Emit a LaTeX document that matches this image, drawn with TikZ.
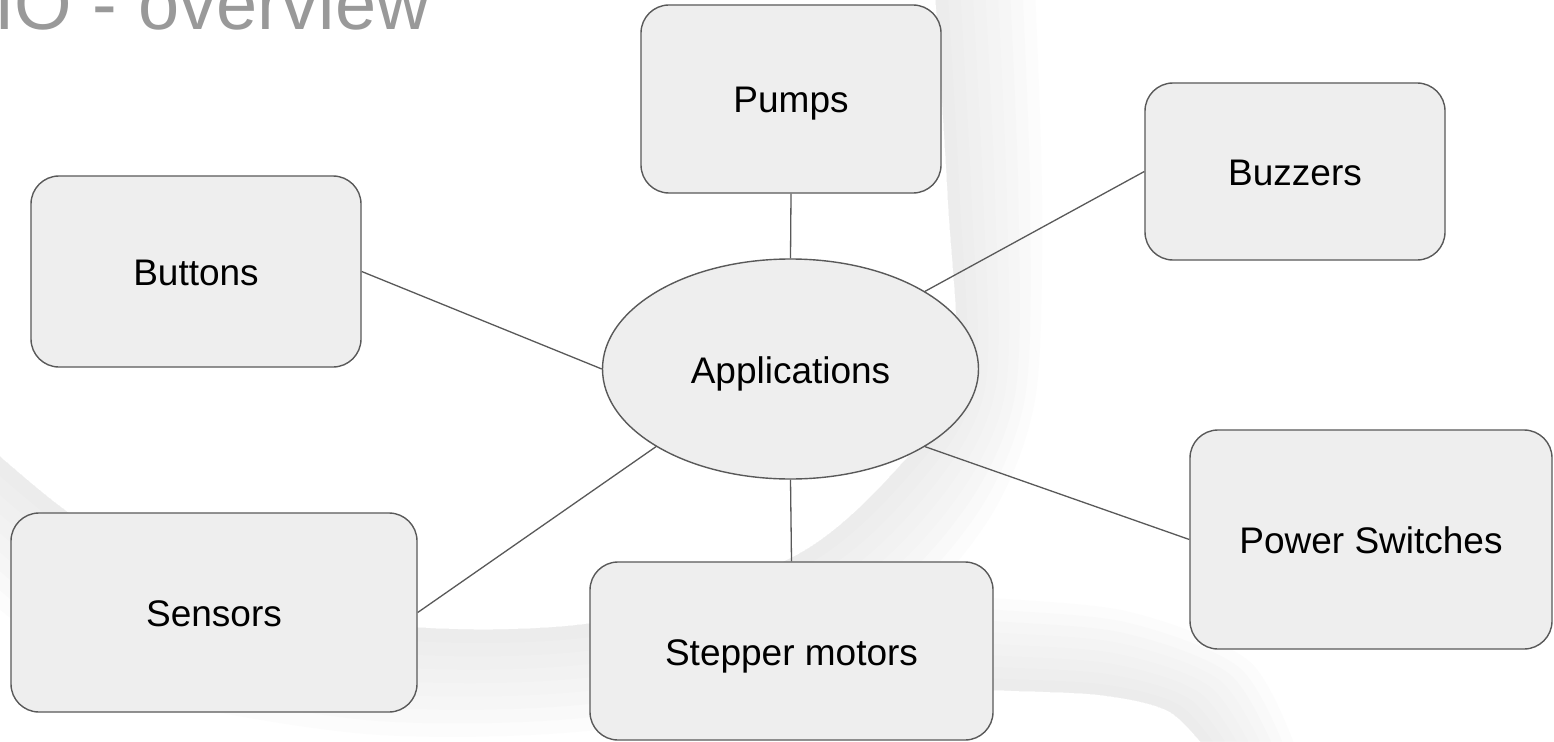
\documentclass[tikz,border=0pt]{standalone}
\usepackage{fontspec}
\setmainfont{Liberation Sans}
\usetikzlibrary{shapes.geometric,calc}
\definecolor{boxfill}{HTML}{EEEEEE}
\definecolor{edgegray}{HTML}{595959}
\definecolor{titlegray}{HTML}{999999}
\tikzset{
  labelfont/.style={font=\fontsize{37}{42}\selectfont, text height=28pt, text depth=0pt},
  box/.style={draw=edgegray, line width=1.4pt, fill=boxfill, rounded corners=28pt,
    inner sep=0pt, labelfont},
  hub/.style={ellipse, draw=edgegray, line width=1.4pt, fill=boxfill, inner sep=0pt,
    minimum width=376pt, minimum height=220pt, labelfont},
  link/.style={draw=edgegray, line width=1.3pt},
  swirl/.style={fill=black!11, fill opacity=0.1, draw=none}
}
\begin{document}
\begin{tikzpicture}[x=1pt,y=-1pt]
\useasboundingbox (0,0) rectangle (1554,741);
\fill[white] (0,0) rectangle (1554,741);

% faint ribbons in the background: a sharp edge (S, T) fading out towards (O, U)
\coordinate (S0) at (935,-10);  \coordinate (O0) at (1035,-10);
\coordinate (S1) at (948,200);  \coordinate (O1) at (1042,200);
\coordinate (S2) at (955,380);  \coordinate (O2) at (1035,400);
\coordinate (S3) at (898,468);  \coordinate (O3) at (985,525);
\coordinate (S4) at (795,556);  \coordinate (O4) at (880,630);
\coordinate (S5) at (600,622);  \coordinate (O5) at (650,722);
\coordinate (S6) at (380,624);  \coordinate (O6) at (380,735);
\coordinate (S7) at (150,565);  \coordinate (O7) at (120,690);
\coordinate (S8) at (62,508);   \coordinate (O8) at (20,625);
\coordinate (S9) at (-10,448);  \coordinate (O9) at (-10,600);

\coordinate (T0) at (880,684);  \coordinate (U0) at (880,590);
\coordinate (T1) at (993,690);  \coordinate (U1) at (993,598);
\coordinate (T2) at (1100,695); \coordinate (U2) at (1130,612);
\coordinate (T3) at (1170,712); \coordinate (U3) at (1250,662);
\coordinate (T4) at (1215,760); \coordinate (U4) at (1300,760);

\begin{scope}
  \clip (0,0) rectangle (1554,741);
  \foreach \t in {0.125,0.25,...,1.0} {
    \path[swirl]
      plot[smooth] coordinates {(S0) (S1) (S2) (S3) (S4) (S5) (S6) (S7) (S8) (S9)}
      -- plot[smooth] coordinates {($(S9)!\t!(O9)$) ($(S8)!\t!(O8)$) ($(S7)!\t!(O7)$)
        ($(S6)!\t!(O6)$) ($(S5)!\t!(O5)$) ($(S4)!\t!(O4)$) ($(S3)!\t!(O3)$)
        ($(S2)!\t!(O2)$) ($(S1)!\t!(O1)$) ($(S0)!\t!(O0)$)}
      -- cycle;
    \path[swirl]
      plot[smooth] coordinates {(T0) (T1) (T2) (T3) (T4)}
      -- plot[smooth] coordinates {($(T4)!\t!(U4)$) ($(T3)!\t!(U3)$) ($(T2)!\t!(U2)$)
        ($(T1)!\t!(U1)$) ($(T0)!\t!(U0)$)}
      -- cycle;
  }
\end{scope}

% title
\node[anchor=base west, inner sep=0pt, text=titlegray,
  font=\fontsize{74}{82}\selectfont] (title) at (-6,29.5) {IO - overview};

% central hub and peripheral blocks
\node[hub] (app) at (790.5,369) {Applications};
\node[box, minimum width=300pt, minimum height=188pt] (pumps) at (791,99) {Pumps};
\node[box, minimum width=300pt, minimum height=177pt] (buzzers) at (1295,171.5) {Buzzers};
\node[box, minimum width=330pt, minimum height=191pt] (buttons) at (196,271.5) {Buttons};
\node[box, minimum width=406pt, minimum height=199pt] (sensors) at (214,612.5) {Sensors};
\node[box, minimum width=403pt, minimum height=178pt] (stepper) at (791.5,651) {Stepper motors};
\node[box, minimum width=362pt, minimum height=219pt] (power) at (1371,539.5) {Power Switches};

% connectors
\draw[link] (pumps.south) -- (app.north);
\draw[link] (buzzers.west) -- (app.30);
\draw[link] (buttons.east) -- (app.west);
\draw[link] (sensors.east) -- (app.210);
\draw[link] (stepper.north) -- (app.south);
\draw[link] (power.west) -- (app.-30);
\end{tikzpicture}
\end{document}
